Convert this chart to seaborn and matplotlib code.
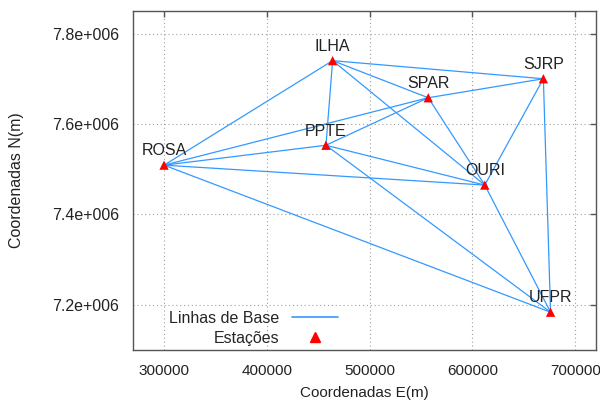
import pandas as pd
import matplotlib
matplotlib.use("Agg")
import matplotlib.pyplot as plt
import seaborn as sns
from matplotlib.ticker import FuncFormatter
from matplotlib.lines import Line2D

# ==== DATA ====
stations = ['ROSA', 'ILHA', 'SPAR', 'SJRP', 'PPTE', 'OURI', 'UFPR']
east = [300000, 464000, 557000, 669000, 457500, 612000, 676000]
north = [7509000, 7740000, 7658000, 7700000, 7553000, 7465000, 7184000]

baselines = [
    ('ROSA', 'ILHA'), ('ROSA', 'SPAR'), ('ROSA', 'PPTE'), ('ROSA', 'OURI'),
    ('ROSA', 'UFPR'), ('ILHA', 'PPTE'), ('ILHA', 'SPAR'), ('ILHA', 'SJRP'),
    ('ILHA', 'OURI'), ('SPAR', 'SJRP'), ('SPAR', 'OURI'), ('SPAR', 'PPTE'),
    ('SJRP', 'OURI'), ('SJRP', 'UFPR'), ('PPTE', 'OURI'), ('PPTE', 'UFPR'),
    ('OURI', 'UFPR'),
]

df_st = pd.DataFrame({'station': stations, 'E': east, 'N': north})
pos = df_st.set_index('station')

rows = []
for i, (a, b) in enumerate(baselines):
    for s in (a, b):
        rows.append([i, pos.loc[s, 'E'], pos.loc[s, 'N']])
df_lines = pd.DataFrame(rows, columns=['edge', 'E', 'N'])

# ==== STYLE ====
sns.set_style("white")
plt.rcParams['font.family'] = ['Liberation Sans', 'DejaVu Sans']

line_color = '#3399ff'
edge_color = '#555555'
fs = 11

fig = plt.figure(figsize=(6.0, 4.03), dpi=100)
ax = fig.add_axes([0.222, 0.131, 0.771, 0.842])

# baselines
sns.lineplot(data=df_lines, x='E', y='N', units='edge', estimator=None, sort=False,
             color=line_color, linewidth=0.9, ax=ax, legend=False)

# stations
sns.scatterplot(data=df_st, x='E', y='N', marker='^', color='red', s=45,
                edgecolor='none', ax=ax, zorder=5, legend=False)

for _, r in df_st.iterrows():
    ax.annotate(r['station'], (r['E'], r['N']), xytext=(0, 7), textcoords='offset points',
                ha='center', va='baseline', fontsize=11.5, color='#222222')

ax.set_xlim(270000, 720000)
ax.set_ylim(7100000, 7850000)
ax.set_xticks([300000, 400000, 500000, 600000, 700000])
ax.set_yticks([7200000, 7400000, 7600000, 7800000])
ax.xaxis.set_major_formatter(FuncFormatter(lambda v, p: f"{int(v)}"))
ax.yaxis.set_major_formatter(FuncFormatter(lambda v, p: f"{v / 1e6:.1f}e+006"))

ax.grid(True, color='#a0a0a0', linestyle=(0, (1, 2.5)), linewidth=0.8)
ax.tick_params(direction='in', length=4, width=1, color=edge_color,
               top=True, right=True, labelsize=fs, labelcolor='#222222', pad=10)
ax.tick_params(axis='y', labelsize=11.5)
for sp in ax.spines.values():
    sp.set_color(edge_color)
    sp.set_linewidth(1.0)

ax.set_xlabel("Coordenadas E(m)", fontsize=fs, color='#222222', labelpad=6)
ax.set_ylabel("Coordenadas N(m)", fontsize=11.5, color='#222222', labelpad=20)

handles = [Line2D([], [], color=line_color, linewidth=1.2),
           Line2D([], [], color='red', marker='^', linestyle='none', markersize=7)]
ax.legend(handles, ['Linhas de Base', 'Estações'], markerfirst=False, frameon=False,
          loc='lower left', bbox_to_anchor=(0.06, -0.01), fontsize=11.5,
          handlelength=2.9, handletextpad=0.8, labelspacing=0.3, borderpad=0.0)

plt.savefig("out.png", dpi=100)
